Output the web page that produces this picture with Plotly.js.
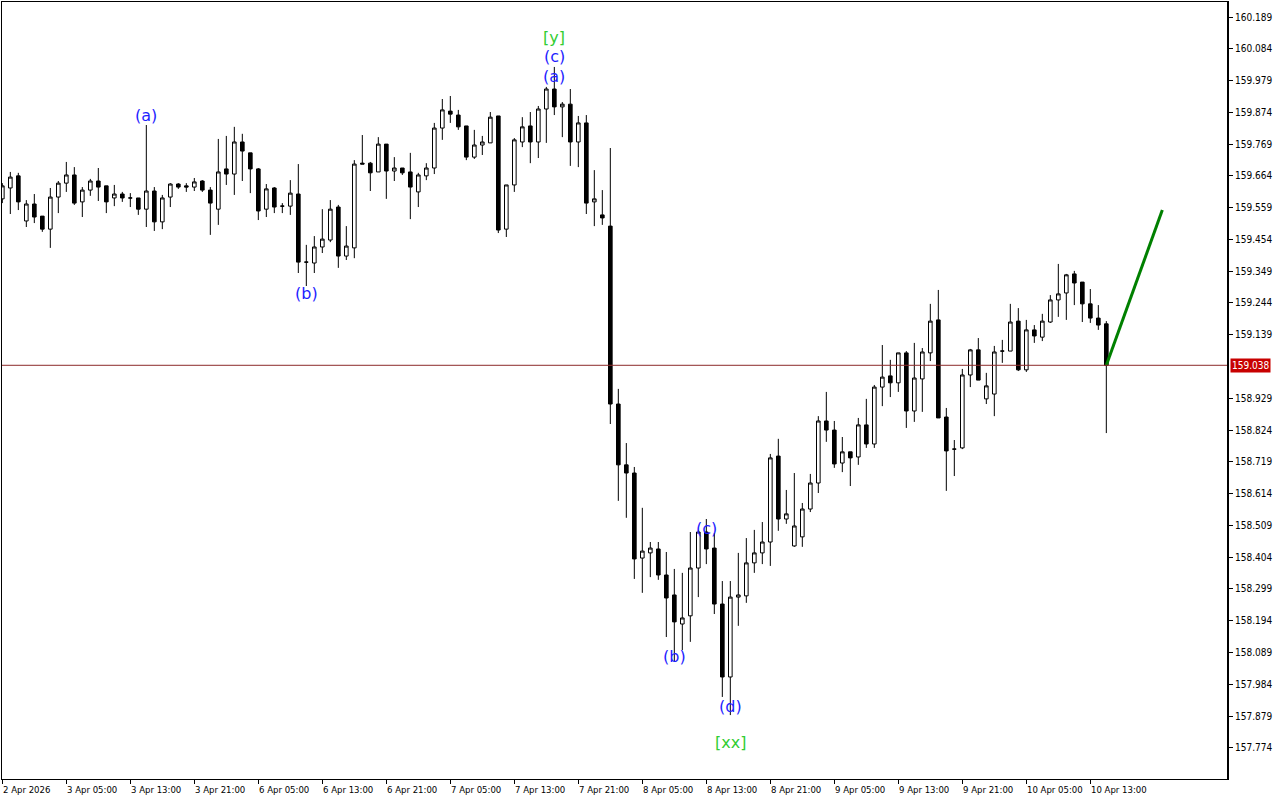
<!DOCTYPE html>
<html>
<head>
<meta charset="utf-8">
<script src="https://cdn.plot.ly/plotly-3.0.1.min.js"></script>
<style>html,body{margin:0;padding:0;background:#fff;}#chart{width:1280px;height:800px;}</style>
</head>
<body>
<div id="chart"></div>
<script>
// H1 candles, oldest first (index 0 = 2 Apr 2026 21:00)
const openP = [159.588,159.624,159.664,159.515,159.571,159.531,159.488,159.594,159.640,159.667,
159.578,159.617,159.647,159.631,159.591,159.604,159.591,159.591,159.554,159.614,
159.512,159.594,159.637,159.631,159.627,159.647,159.617,159.554,159.687,159.670,
159.776,159.740,159.687,159.554,159.624,159.564,159.564,159.604,159.379,159.376,
159.429,159.452,159.561,159.399,159.426,159.706,159.706,159.677,159.769,159.680,
159.690,159.677,159.611,159.664,159.690,159.822,159.878,159.865,159.829,159.726,
159.766,159.773,159.862,159.488,159.634,159.776,159.829,159.776,159.885,159.951,
159.892,159.901,159.776,159.839,159.578,159.535,159.498,158.910,158.709,158.682,
158.401,158.418,158.431,158.345,158.279,158.183,158.210,158.368,158.487,158.434,
158.249,158.008,158.272,158.276,158.385,158.418,158.454,158.738,158.530,158.441,
158.471,158.563,158.649,158.854,158.824,158.715,158.752,158.735,158.841,158.778,
158.966,159.003,158.980,159.079,158.887,158.993,159.079,159.188,158.867,158.761,
158.765,159.006,159.089,158.927,158.943,159.085,159.085,159.184,159.023,159.155,
159.131,159.181,159.254,159.277,159.340,159.313,159.241,159.194,159.175];
const highP = [159.640,159.677,159.674,159.584,159.604,159.531,159.624,159.647,159.710,159.693,
159.627,159.654,159.690,159.631,159.634,159.611,159.607,159.591,159.832,159.627,
159.601,159.640,159.640,159.640,159.657,159.650,159.627,159.786,159.796,159.826,
159.803,159.740,159.690,159.637,159.627,159.574,159.650,159.703,159.436,159.465,
159.554,159.584,159.568,159.498,159.716,159.799,159.710,159.792,159.769,159.726,
159.690,159.740,159.674,159.706,159.839,159.918,159.928,159.882,159.829,159.816,
159.796,159.875,159.862,159.634,159.789,159.858,159.875,159.895,159.958,160.024,
159.908,159.951,159.862,159.865,159.683,159.617,159.756,158.960,158.781,158.702,
158.567,158.454,158.454,158.421,158.365,158.352,158.487,158.494,158.530,158.484,
158.325,158.325,158.418,158.467,158.494,158.520,158.745,158.795,158.626,158.682,
158.583,158.679,158.870,158.950,158.854,158.801,158.752,158.864,158.927,158.973,
159.105,159.056,159.079,159.085,159.112,159.095,159.241,159.287,158.897,158.791,
159.026,159.092,159.128,159.013,159.102,159.122,159.241,159.227,159.188,159.171,
159.208,159.270,159.373,159.340,159.350,159.313,159.290,159.237,159.184];
const lowP = [159.574,159.538,159.551,159.495,159.508,159.479,159.426,159.541,159.611,159.568,
159.528,159.598,159.581,159.541,159.564,159.578,159.561,159.535,159.495,159.482,
159.488,159.561,159.621,159.611,159.614,159.611,159.469,159.502,159.634,159.601,
159.647,159.607,159.518,159.528,159.541,159.541,159.535,159.343,159.300,159.343,
159.409,159.445,159.360,159.386,159.392,159.703,159.614,159.677,159.588,159.647,
159.667,159.521,159.561,159.650,159.670,159.783,159.839,159.816,159.716,159.720,
159.733,159.773,159.475,159.462,159.611,159.759,159.706,159.723,159.773,159.865,
159.792,159.697,159.693,159.538,159.498,159.502,158.844,158.590,158.534,158.332,
158.286,158.338,158.329,158.140,158.058,158.097,158.124,158.272,158.381,158.216,
157.942,157.882,158.177,158.253,158.352,158.381,158.375,158.491,158.514,158.438,
158.438,158.553,158.616,158.785,158.699,158.685,158.639,158.709,158.765,158.765,
158.903,158.933,158.950,158.831,158.851,158.884,159.052,158.864,158.623,158.672,
158.761,158.966,158.989,158.910,158.870,159.046,159.085,159.019,159.016,159.112,
159.118,159.178,159.198,159.188,159.237,159.181,159.178,159.155,158.814];
const closeP = [159.631,159.660,159.578,159.571,159.528,159.488,159.594,159.640,159.667,159.574,
159.617,159.647,159.627,159.578,159.604,159.591,159.591,159.554,159.614,159.512,
159.591,159.637,159.627,159.627,159.644,159.617,159.574,159.677,159.670,159.776,
159.746,159.687,159.548,159.621,159.561,159.564,159.607,159.379,159.379,159.429,
159.455,159.554,159.399,159.432,159.703,159.703,159.674,159.769,159.680,159.690,
159.674,159.627,159.667,159.690,159.822,159.882,159.868,159.826,159.726,159.766,
159.776,159.858,159.485,159.634,159.783,159.826,159.776,159.885,159.951,159.892,
159.901,159.776,159.839,159.574,159.588,159.525,158.910,158.709,158.682,158.398,
158.424,158.434,158.345,158.269,158.190,158.203,158.368,158.487,158.431,158.249,
158.008,158.272,158.279,158.385,158.418,158.454,158.732,158.530,158.547,158.507,
158.563,158.649,158.854,158.824,158.712,158.752,158.732,158.841,158.778,158.966,
158.999,158.980,159.079,158.887,158.996,159.082,159.184,158.864,158.755,158.761,
159.006,159.089,158.989,158.970,159.082,159.085,159.181,159.023,159.155,159.135,
159.184,159.254,159.274,159.337,159.310,159.241,159.194,159.171,159.038];

// Time axis labels (every 8 bars)
const timeTickIdx = [0,8,16,24,32,40,48,56,64,72,80,88,96,104,112,120,128,136];
const timeTickText = ["2 Apr 2026","3 Apr 05:00","3 Apr 13:00","3 Apr 21:00","6 Apr 05:00","6 Apr 13:00",
"6 Apr 21:00","7 Apr 05:00","7 Apr 13:00","7 Apr 21:00","8 Apr 05:00","8 Apr 13:00","8 Apr 21:00",
"9 Apr 05:00","9 Apr 13:00","9 Apr 21:00","10 Apr 05:00","10 Apr 13:00"];

// Price axis labels
const priceTicks = [157.774,157.879,157.984,158.089,158.194,158.299,158.404,158.509,158.614,158.719,
158.824,158.929,159.139,159.244,159.349,159.454,159.559,159.664,159.769,159.874,159.979,160.084,160.189];
const priceTickText = ["157.774","157.879","157.984","158.089","158.194","158.299","158.404","158.509","158.614","158.719",
"158.824","158.929","159.139","159.244","159.349","159.454","159.559","159.664","159.769","159.874","159.979","160.084","160.189"];

const bidPrice = 159.038;
const bidText = "159.038";

// Forecast line
const forecastIdx = [138, 145];
const forecastPrice = [159.038, 159.551];

// Elliott wave labels
const waveText  = ["(a)","(b)","[y]","(c)","(a)","(c)","(b)","(d)","[xx]"];
const waveIdx   = [18, 38, 69, 69, 69, 88, 84, 91, 91];
const wavePrice = [159.862, 159.274, 160.120, 160.057, 159.994, 158.500, 158.074, 157.912, 157.790];
const waveColor = ["#1e1eff","#1e1eff","#32cd32","#1e1eff","#1e1eff","#1e1eff","#1e1eff","#1e1eff","#32cd32"];

const xIdx = openP.map((_, i) => i);

const axisFont = 'DejaVu Sans Condensed, Liberation Sans, sans-serif';

const traces = [
  {
    type: 'candlestick',
    x: xIdx, open: openP, high: highP, low: lowP, close: closeP,
    increasing: {line: {color: '#000000', width: 1}, fillcolor: '#ffffff'},
    decreasing: {line: {color: '#000000', width: 1}, fillcolor: '#000000'},
    whiskerwidth: 0,
    hoverinfo: 'skip',
    showlegend: false
  },
  {
    type: 'scatter', mode: 'lines',
    x: forecastIdx, y: forecastPrice,
    line: {color: '#008000', width: 3},
    hoverinfo: 'skip', showlegend: false
  }
];

const annotations = [];
for (let i = 0; i < timeTickIdx.length; i++) {
  annotations.push({
    x: timeTickIdx[i], xref: 'x', y: 0, yref: 'paper',
    xanchor: 'left', yanchor: 'top', yshift: -3, xshift: -1,
    text: timeTickText[i], showarrow: false,
    font: {family: axisFont, size: 9.5, color: '#000'}
  });
}
for (let i = 0; i < waveText.length; i++) {
  annotations.push({
    x: waveIdx[i], xref: 'x', y: wavePrice[i], yref: 'y',
    xanchor: 'center', yanchor: 'middle',
    text: waveText[i], showarrow: false,
    font: {family: 'DejaVu Sans, sans-serif', size: 16, color: waveColor[i]}
  });
}
annotations.push({
  x: 1, xref: 'paper', y: bidPrice, yref: 'y',
  xanchor: 'left', yanchor: 'middle', xshift: 2,
  text: bidText, showarrow: false, bgcolor: '#c80000', borderpad: 1,
  font: {family: axisFont, size: 10, color: '#ffffff'}
});

const layout = {
  width: 1280, height: 800,
  margin: {l: 2, r: 52, t: 2, b: 21, pad: 0},
  paper_bgcolor: '#ffffff', plot_bgcolor: '#ffffff',
  showlegend: false,
  boxgap: 0.35,
  xaxis: {
    range: [-0.04, 153.21], fixedrange: true,
    tickvals: timeTickIdx, showticklabels: false,
    ticks: 'outside', ticklen: 4, tickcolor: '#000', tickwidth: 1,
    showgrid: false, zeroline: false,
    showline: true, linecolor: '#000', linewidth: 1, mirror: true,
    rangeslider: {visible: false}
  },
  yaxis: {
    side: 'right', range: [157.6708, 160.2386], fixedrange: true,
    tickvals: priceTicks, ticktext: priceTickText,
    ticks: 'outside', ticklen: 4, tickcolor: '#000', tickwidth: 1,
    tickfont: {family: axisFont, size: 10, color: '#000'},
    showgrid: false, zeroline: false,
    showline: true, linecolor: '#000', linewidth: 1, mirror: true
  },
  shapes: [
    {type: 'line', xref: 'paper', x0: 0, x1: 1, yref: 'y', y0: bidPrice, y1: bidPrice,
     line: {color: '#8c2a2a', width: 1}, layer: 'above'},
    {type: 'line', xref: 'paper', x0: 1, x1: 1, yref: 'paper', y0: 0, y1: 1,
     line: {color: '#000', width: 2}, layer: 'above'}
  ],
  annotations: annotations
};

Plotly.newPlot('chart', traces, layout, {staticPlot: true, displayModeBar: false});
</script>
</body>
</html>
